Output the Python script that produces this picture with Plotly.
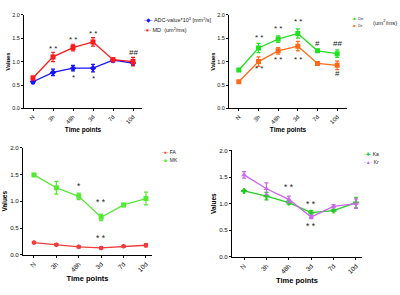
import plotly.graph_objects as go

categories = ["N", "3h", "48h", "3d", "7d", "10d"]
xi = list(range(len(categories)))

# Panel 1
adc = [0.57, 0.77, 0.86, 0.86, 1.03, 0.97]
adc_err = [0.04, 0.07, 0.06, 0.08, 0.04, 0.05]
md = [0.65, 1.10, 1.30, 1.42, 1.04, 1.00]
md_err = [0.04, 0.10, 0.07, 0.09, 0.04, 0.09]
# Panel 2
de = [0.82, 1.29, 1.48, 1.60, 1.23, 1.17]
de_err = [0.02, 0.10, 0.07, 0.10, 0.03, 0.08]
dr = [0.57, 1.00, 1.23, 1.33, 0.96, 0.92]
dr_err = [0.02, 0.10, 0.07, 0.10, 0.03, 0.09]
# Panel 3
fa = [0.23, 0.19, 0.15, 0.13, 0.16, 0.18]
fa_err = [0.02, 0.02, 0.02, 0.02, 0.02, 0.03]
mk = [1.49, 1.25, 1.09, 0.70, 0.93, 1.05]
mk_err = [0.03, 0.12, 0.06, 0.06, 0.03, 0.12]
# Panel 4
ka = [1.24, 1.14, 1.02, 0.83, 0.87, 1.02]
ka_err = [0.02, 0.07, 0.03, 0.04, 0.02, 0.10]
kr = [1.54, 1.28, 1.08, 0.75, 0.95, 1.00]
kr_err = [0.06, 0.11, 0.06, 0.03, 0.03, 0.09]

# significance marks: (panel, category index, y value, text)
sig_marks = [
    (1, 1, 1.29, "* *"), (1, 2, 1.47, "* *"), (1, 3, 1.60, "* *"), (1, 5, 1.20, "##"),
    (1, 2, 0.66, "*"), (1, 3, 0.64, "*"),
    (2, 1, 1.51, "* *"), (2, 2, 1.70, "* *"), (2, 3, 1.86, "* *"), (2, 4, 1.38, "#"), (2, 5, 1.38, "##"),
    (2, 1, 0.86, "* *"), (2, 2, 1.05, "* *"), (2, 3, 1.05, "* *"), (2, 5, 0.74, "#"),
    (3, 2, 1.29, "*"), (3, 3, 0.98, "* *"), (3, 3, 0.31, "* *"),
    (4, 2, 1.32, "* *"), (4, 3, 1.00, "* *"), (4, 3, 0.58, "* *"),
]

W, H = 400, 295
font = "Liberation Sans, Arial, sans-serif"

panels = [
    # (axis suffix, x px domain, y px domain (top,bottom), x range, tick size, title size)
    ("", (24, 142), (11, 107), (-0.45, 5.45), 5.8, 6.5),
    ("2", (229, 347), (11, 107), (-0.5, 5.5), 5.8, 6.5),
    ("3", (23, 152), (147, 257), (-0.49, 5.27), 6.5, 7.5),
    ("4", (232, 362), (150, 259), (-0.54, 5.27), 6.5, 7.5),
]

fig = go.Figure()

def add_series(n, y, err, color, symbol, name):
    sfx = "" if n == 1 else str(n)
    fig.add_trace(go.Scatter(
        x=xi, y=y, mode="lines+markers", name=name,
        line=dict(color=color, width=1.3),
        marker=dict(color=color, size=5, symbol=symbol),
        error_y=dict(type="data", array=err, color=color, thickness=1.2, width=2),
        xaxis="x" + sfx, yaxis="y" + sfx, showlegend=False))

add_series(1, adc, adc_err, "#1414ff", "diamond", "ADC")
add_series(1, md, md_err, "#ff1a1a", "square", "MD")
add_series(2, de, de_err, "#22e022", "square", "De")
add_series(2, dr, dr_err, "#ff6a1a", "square", "Dr")
add_series(3, fa, fa_err, "#f03c3c", "hexagon", "FA")
add_series(3, mk, mk_err, "#55e835", "square", "MK")
add_series(4, ka, ka_err, "#22cc22", "cross", "Ka")
add_series(4, kr, kr_err, "#cc66ee", "triangle-up", "Kr")

layout = dict(width=W, height=H, margin=dict(l=0, r=0, t=0, b=0),
              paper_bgcolor="white", plot_bgcolor="white",
              font=dict(family=font, color="black"), annotations=[])

for sfx, (x0, x1), (yt, yb), xr, ts, tt in panels:
    layout["xaxis" + sfx] = dict(
        domain=[x0 / W, x1 / W], range=list(xr), anchor="y" + sfx,
        tickvals=xi, ticktext=categories, tickangle=-45,
        showline=True, linecolor="black", linewidth=1, ticks="outside",
        ticklen=2, tickcolor="black", showgrid=False, zeroline=False,
        tickfont=dict(size=ts, family=font, color="#111"),
        title=dict(text="<b>Time points</b>", font=dict(size=tt, family=font), standoff=3))
    layout["yaxis" + sfx] = dict(
        domain=[1 - yb / H, 1 - yt / H], range=[0, 2], anchor="x" + sfx,
        dtick=0.5, tickformat=".1f",
        showline=True, linecolor="black", linewidth=1, ticks="outside",
        ticklen=2, tickcolor="black", showgrid=False, zeroline=False,
        tickfont=dict(size=ts - 0.3, family=font, color="#111"),
        title=dict(text="<b>Values</b>", font=dict(size=ts, family=font), standoff=1))

for p, ci, yv, txt in sig_marks:
    sfx = "" if p == 1 else str(p)
    layout["annotations"].append(dict(
        x=ci, y=yv, xref="x" + sfx, yref="y" + sfx, text=txt, showarrow=False,
        font=dict(size=8 if p <= 2 else 8.5, family=font, color="#222")))

def legend_item(xp, yp, glyph, color, text, size):
    layout["annotations"].append(dict(
        x=xp / W, y=1 - yp / H, xref="paper", yref="paper", xanchor="left",
        yanchor="middle", showarrow=False, align="left",
        text=f"<span style='color:{color}'>-{glyph}-</span> {text}",
        font=dict(size=size, family=font, color="#222")))

legend_item(142, 16, "◆", "#1414ff", "ADC-value*10<sup>3</sup> [mm<sup>2</sup>/s]", 5.5)
legend_item(142, 27, "●", "#ff1a1a", "MD  (um<sup>2</sup>/ms)", 5.5)
legend_item(350, 15, "■", "#22e022", "De", 4)
legend_item(350, 22, "■", "#ff6a1a", "Dr", 4)
layout["annotations"].append(dict(x=371 / W, y=1 - 18 / H, xref="paper", yref="paper",
                                  xanchor="left", yanchor="middle", showarrow=False,
                                  text="(um<sup>2</sup>/ms)", font=dict(size=6, family=font, color="#222")))
legend_item(160, 152, "●", "#f03c3c", "FA", 5)
legend_item(160, 160, "■", "#55e835", "MK", 5)
legend_item(362, 154, "✚", "#22cc22", "Ka", 5)
legend_item(362, 162, "▲", "#cc66ee", "Kr", 5)

fig.update_layout(**layout)
fig.write_html("out.html", config={"displayModeBar": False},
               post_script="document.body.style.margin='0px';")
